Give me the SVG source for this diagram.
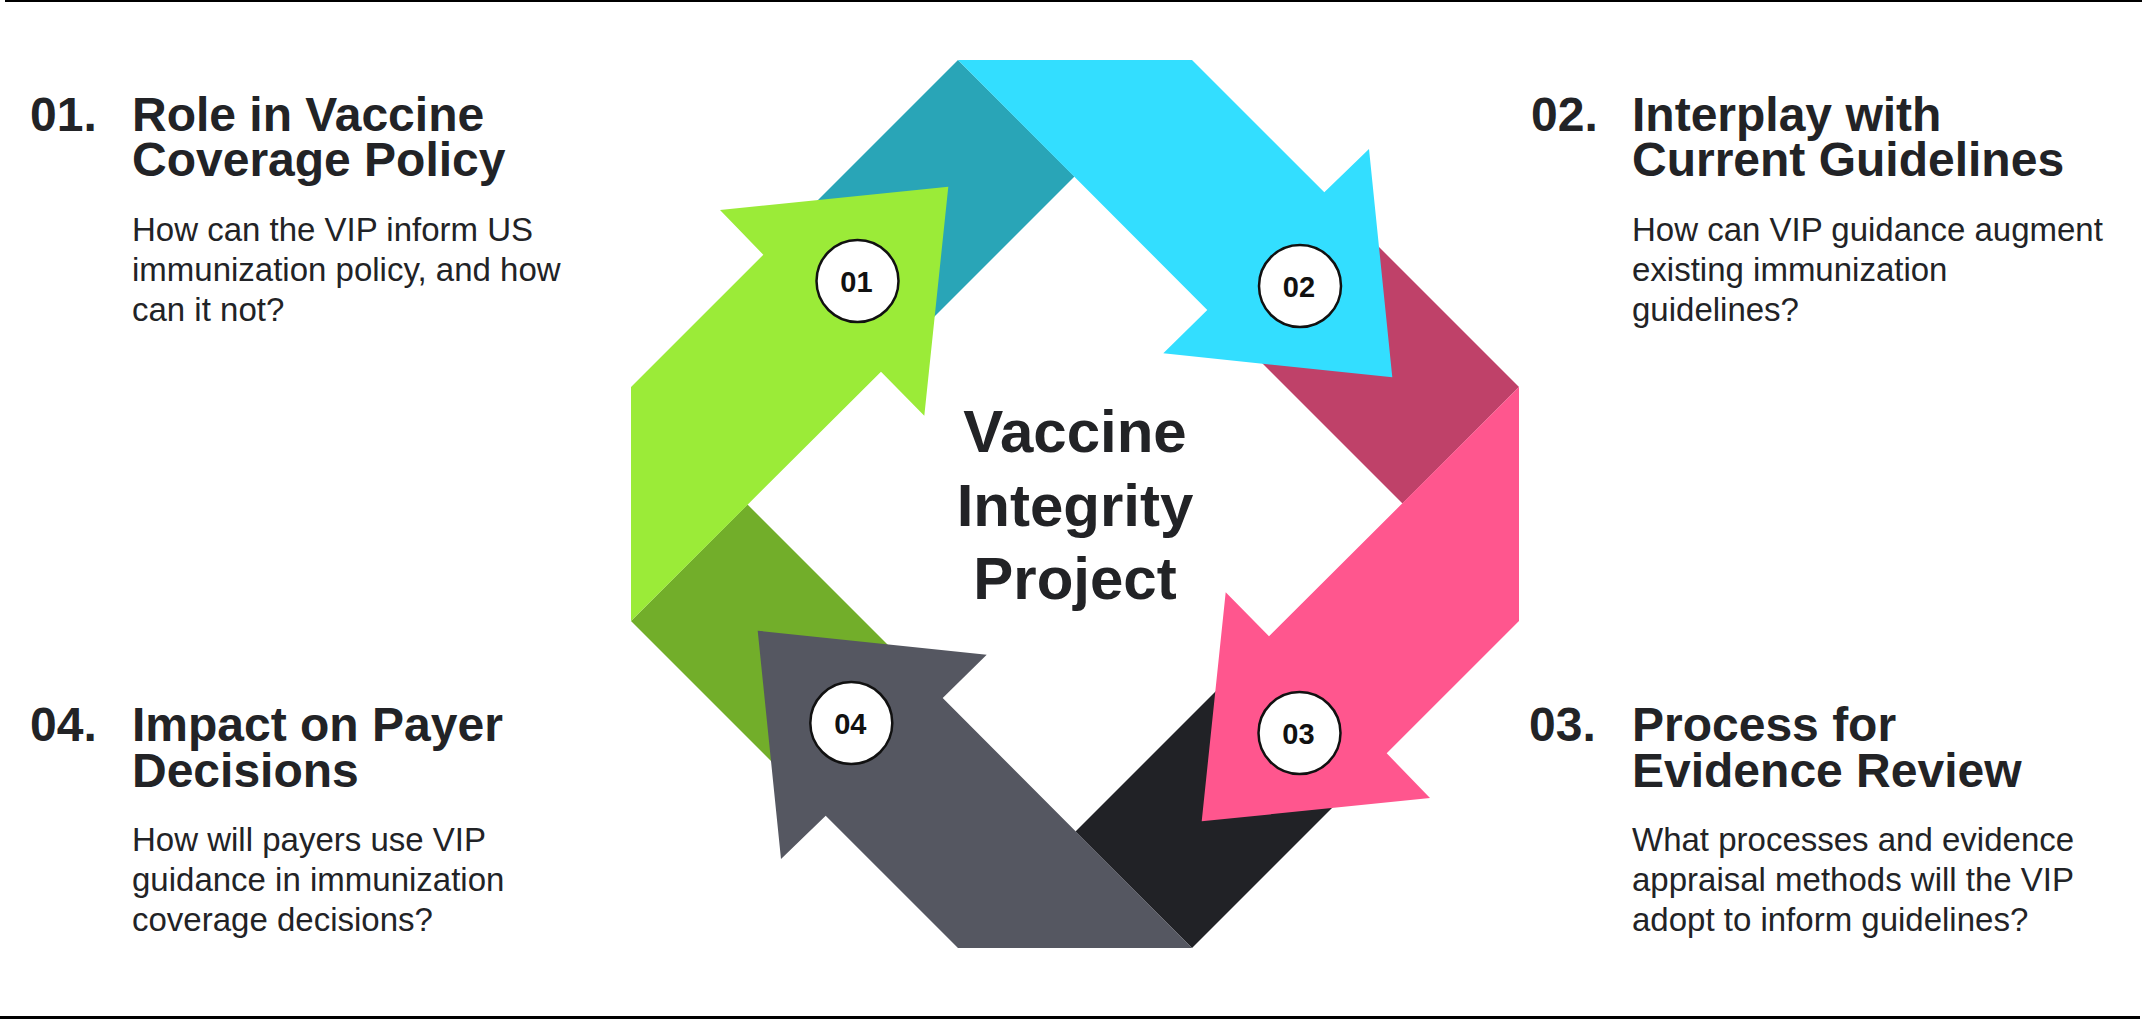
<svg xmlns="http://www.w3.org/2000/svg" width="2142" height="1019" viewBox="0 0 2142 1019">
  <style>
    .title { font-family: "Liberation Sans", Arial, sans-serif; font-weight: bold; font-size: 48px; fill: #222326; }
    .body { font-family: "Liberation Sans", Arial, sans-serif; font-size: 33px; fill: #222326; }
    .center { font-family: "Liberation Sans", Arial, sans-serif; font-weight: bold; font-size: 60px; fill: #222326; text-anchor: middle; }
    .badge circle { fill: #ffffff; stroke: #111111; stroke-width: 2.5; }
    .badge text { font-family: "Liberation Sans", Arial, sans-serif; font-weight: bold; font-size: 29px; fill: #111111; text-anchor: middle; }
  </style>
  <defs>
    <polygon id="darkBand" points="958,60 1074.5,176.5 925.5,325.5 809,209"/>
    <polygon id="brightArrow" points="958,60 1192,60 1324.3,192.3 1369,149 1392.3,377.3 1163.3,353.3 1207.3,310"/>
  </defs>
  <rect x="0" y="0" width="2142" height="1019" fill="#ffffff"/>
  <rect x="5" y="0" width="2137" height="2" fill="#000000"/>
  <rect x="0" y="1016" width="2140" height="3" fill="#000000"/>

  <g id="connectors">
    <g id="dark-folds">
      <use href="#darkBand" fill="#29A5B7"/>
      <use href="#darkBand" fill="#BF4169" transform="rotate(90 1075 504)"/>
      <use href="#darkBand" fill="#212226" transform="rotate(180 1075 504)"/>
      <use href="#darkBand" fill="#72AE2A" transform="rotate(270 1075 504)"/>
    </g>
    <g id="arrow-02"><use href="#brightArrow" fill="#33DEFF"/></g>
    <g id="arrow-03"><use href="#brightArrow" fill="#FF568E" transform="rotate(90 1075 504)"/></g>
    <g id="arrow-04"><use href="#brightArrow" fill="#555761" transform="rotate(180 1075 504)"/></g>
    <g id="arrow-01"><use href="#brightArrow" fill="#9BEB38" transform="rotate(270 1075 504)"/></g>
  </g>

  <g id="badge-01" class="badge"><circle cx="857.5" cy="281" r="41"/><text x="856.5" y="292">01</text></g>
  <g id="badge-02" class="badge"><circle cx="1300" cy="286" r="41"/><text x="1299" y="297">02</text></g>
  <g id="badge-03" class="badge"><circle cx="1299.5" cy="733" r="41"/><text x="1298.5" y="744">03</text></g>
  <g id="badge-04" class="badge"><circle cx="851.3" cy="723" r="41"/><text x="850.3" y="734">04</text></g>

  <g id="center-title">
    <text class="center" x="1075" y="452">Vaccine<tspan x="1075" y="526">Integrity</tspan><tspan x="1075" y="599">Project</tspan></text>
  </g>

  <g id="item-01">
    <text class="title" x="30" y="131">01.</text>
    <text class="title" x="132" y="131">Role in Vaccine<tspan x="132" y="176">Coverage Policy</tspan></text>
    <text class="body" x="132" y="241">How can the VIP inform US<tspan x="132" y="281">immunization policy, and how</tspan><tspan x="132" y="321">can it not?</tspan></text>
  </g>

  <g id="item-02">
    <text class="title" x="1531" y="131">02.</text>
    <text class="title" x="1632" y="131">Interplay with<tspan x="1632" y="176">Current Guidelines</tspan></text>
    <text class="body" x="1632" y="241">How can VIP guidance augment<tspan x="1632" y="281">existing immunization</tspan><tspan x="1632" y="321">guidelines?</tspan></text>
  </g>

  <g id="item-03">
    <text class="title" x="1529" y="741">03.</text>
    <text class="title" x="1632" y="741">Process for<tspan x="1632" y="787">Evidence Review</tspan></text>
    <text class="body" x="1632" y="851">What processes and evidence<tspan x="1632" y="891">appraisal methods will the VIP</tspan><tspan x="1632" y="931">adopt to inform guidelines?</tspan></text>
  </g>

  <g id="item-04">
    <text class="title" x="30" y="741">04.</text>
    <text class="title" x="132" y="741">Impact on Payer<tspan x="132" y="787">Decisions</tspan></text>
    <text class="body" x="132" y="851">How will payers use VIP<tspan x="132" y="891">guidance in immunization</tspan><tspan x="132" y="931">coverage decisions?</tspan></text>
  </g>
</svg>
